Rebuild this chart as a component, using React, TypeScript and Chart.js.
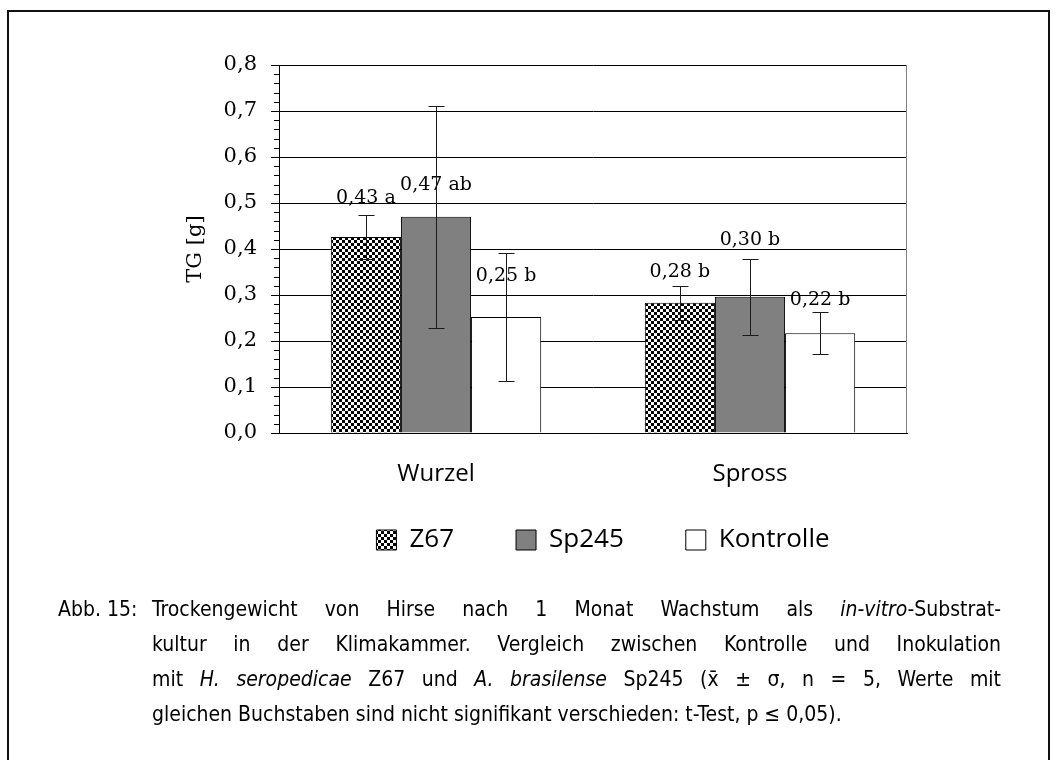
import React, { useEffect, useRef } from 'react';
import { Chart, registerables } from 'chart.js';

Chart.register(...registerables);

// ---------- data ----------
const categories = ['Wurzel', 'Spross'];
const seriesNames = ['Z67', 'Sp245', 'Kontrolle'];
const z67Values = [0.426, 0.283];
const sp245Values = [0.47, 0.296];
const kontrolleValues = [0.252, 0.217];
const z67Sd = [0.048, 0.037];
const sp245Sd = [0.241, 0.083];
const kontrolleSd = [0.139, 0.045];
const z67Labels = ['0,43 a', '0,28 b'];
const sp245Labels = ['0,47 ab', '0,30 b'];
const kontrolleLabels = ['0,25 b', '0,22 b'];
const yTickLabels = ['0,0', '0,1', '0,2', '0,3', '0,4', '0,5', '0,6', '0,7', '0,8'];
const yTitle = 'TG [g]';

const SERIF = "'DejaVu Serif', serif";
const SANS = "'Open Sans', sans-serif";

export default function App() {
  const ref = useRef<HTMLCanvasElement | null>(null);

  useEffect(() => {
    let chart: Chart | null = null;
    let cancelled = false;
    const canvas = ref.current!;
    const ctx = canvas.getContext('2d')!;

    const pc = document.createElement('canvas');
    pc.width = 6;
    pc.height = 6;
    const p = pc.getContext('2d')!;
    p.fillStyle = '#fff';
    p.fillRect(0, 0, 6, 6);
    p.fillStyle = '#000';
    p.fillRect(0, 0, 3, 3);
    p.fillRect(3, 3, 3, 3);
    const checker = ctx.createPattern(pc, 'repeat')!;

    const sds = [z67Sd, sp245Sd, kontrolleSd];
    const labels = [z67Labels, sp245Labels, kontrolleLabels];

    const extrasPlugin = {
      id: 'extras',
      afterLayout(c: any, _args: any, opts: any) {
        if (c.legend) {
          c.legend.top -= opts.legendShift;
          c.legend.bottom -= opts.legendShift;
        }
      },
      beforeDatasetsDraw(c: any) {
        const { ctx: g, chartArea } = c;
        const ys = c.scales.y;
        g.save();
        g.strokeStyle = '#000';
        g.lineWidth = 1;
        for (let i = 0; i <= 40; i++) {
          if (i % 5 === 0) continue;
          const y = Math.round(ys.getPixelForValue(i * 0.02)) + 0.5;
          g.beginPath();
          g.moveTo(chartArea.left - 5, y);
          g.lineTo(chartArea.left, y);
          g.stroke();
        }
        g.strokeStyle = '#808080';
        const xr = Math.round(chartArea.right) - 0.5;
        g.beginPath();
        g.moveTo(xr, chartArea.top);
        g.lineTo(xr, chartArea.bottom);
        g.stroke();
        g.restore();
      },
      afterDatasetsDraw(c: any, _args: any, opts: any) {
        const { ctx: g } = c;
        const ys = c.scales.y;
        g.save();
        // data labels
        g.fillStyle = '#000';
        g.font = `19px ${SERIF}`;
        g.textAlign = 'center';
        g.textBaseline = 'alphabetic';
        c.data.datasets.forEach((ds: any, di: number) => {
          const meta = c.getDatasetMeta(di);
          meta.data.forEach((bar: any, i: number) => {
            g.fillText(labels[di][i], bar.x, bar.y - opts.labelOffsets[di][i]);
          });
        });
        // error bars
        g.strokeStyle = '#1a1a1a';
        g.lineWidth = 1;
        c.data.datasets.forEach((ds: any, di: number) => {
          const meta = c.getDatasetMeta(di);
          meta.data.forEach((bar: any, i: number) => {
            const v = ds.data[i];
            const sd = sds[di][i];
            const x = Math.round(bar.x) + 0.5;
            const yt = Math.round(ys.getPixelForValue(v + sd)) + 0.5;
            const yb = Math.round(ys.getPixelForValue(v - sd)) + 0.5;
            const hw = 8;
            g.beginPath();
            g.moveTo(x, yt);
            g.lineTo(x, yb);
            g.moveTo(x - hw, yt);
            g.lineTo(x + hw, yt);
            g.moveTo(x - hw, yb);
            g.lineTo(x + hw, yb);
            g.stroke();
          });
        });
        g.restore();
      },
    };

    const build = () => {
      if (cancelled) return;
      chart = new Chart(canvas, {
        type: 'bar',
        data: {
          labels: categories,
          datasets: [
            {
              label: seriesNames[0],
              data: z67Values,
              backgroundColor: checker as any,
              borderColor: '#000',
              borderWidth: 1,
              yAxisID: 'y',
            },
            {
              label: seriesNames[1],
              data: sp245Values,
              backgroundColor: '#808080',
              borderColor: '#000',
              borderWidth: 1,
              yAxisID: 'y',
            },
            {
              label: seriesNames[2],
              data: kontrolleValues,
              backgroundColor: '#ffffff',
              borderColor: '#000',
              borderWidth: 1,
              yAxisID: 'y',
            },
          ],
        },
        options: {
          responsive: false,
          animation: false,
          datasets: { bar: { categoryPercentage: 0.67, barPercentage: 1.0 } },
          layout: { padding: { left: 179, right: 29, top: 65, bottom: 19 } },
          scales: {
            x: {
              grid: { display: true, drawOnChartArea: false, drawTicks: false },
              border: { display: true, color: '#000', width: 1 },
              ticks: { font: { family: SANS, size: 24 }, color: '#000', padding: 27 },
              afterFit: (s: any) => {
                s.height = 70;
              },
            },
            y: {
              min: 0,
              max: 0.8,
              ticks: {
                stepSize: 0.1,
                callback: (_v: any, i: number) => yTickLabels[i] ?? '',
                font: { family: SERIF, size: 21 },
                color: '#000',
                padding: 14,
              },
              grid: { color: '#000', lineWidth: 1, tickLength: 8, drawTicks: true },
              border: { display: true, color: '#000', width: 1 },
              title: {
                display: true,
                text: yTitle,
                font: { family: SERIF, size: 21 },
                color: '#000',
                padding: { top: 4, bottom: 4 },
              },
              afterFit: (s: any) => {
                s.width = 100;
              },
            },
            y2: {
              position: 'right',
              display: true,
              grid: { display: false },
              ticks: { display: false },
              border: { display: false },
              afterFit: (s: any) => {
                s.width = 120;
              },
            },
          },
          plugins: {
            legend: {
              position: 'bottom',
              labels: {
                font: { family: SANS, size: 26 },
                color: '#000',
                boxWidth: 20,
                boxHeight: 20,
                padding: 62,
              },
            },
            tooltip: { enabled: false },
            extras: {
              legendShift: 38,
              labelOffsets: [
                [34, 26],
                [27, 52],
                [36, 28],
              ],
            },
          } as any,
        },
        plugins: [extrasPlugin],
      });
    };

    const fontsApi = (document as any).fonts;
    if (fontsApi && fontsApi.load) {
      Promise.all([
        fontsApi.load(`24px ${SANS}`),
        fontsApi.load(`21px ${SERIF}`),
      ])
        .catch(() => null)
        .then(build);
    } else {
      build();
    }

    return () => {
      cancelled = true;
      if (chart) chart.destroy();
    };
  }, []);

  const capFont = "'DejaVu Sans Condensed', 'Open Sans', sans-serif";
  const lineStyle: React.CSSProperties = {
    height: 35,
    lineHeight: '35px',
    whiteSpace: 'nowrap',
    textAlign: 'justify',
    textAlignLast: 'justify' as any,
  };
  const lastLine: React.CSSProperties = {
    height: 35,
    lineHeight: '35px',
    whiteSpace: 'nowrap',
    textAlign: 'left',
  };

  return (
    <div style={{ position: 'absolute', left: 0, top: 0, width: 1056, height: 760, background: '#fff', overflow: 'hidden' }}>
      <div
        style={{
          position: 'absolute',
          left: 7,
          top: 10,
          width: 1039,
          height: 800,
          borderTop: '2px solid #111',
          borderLeft: '2px solid #111',
          borderRight: '2px solid #111',
        }}
      />
      <div style={{ position: 'absolute', left: 0, top: 0, width: 1056, height: 620 }}>
        <canvas ref={ref} width={1056} height={620} style={{ display: 'block' }} />
      </div>
      <div style={{ position: 'absolute', left: 58, top: 592, fontFamily: capFont, fontSize: 21, color: '#000', lineHeight: '35px' }}>
        Abb. 15:
      </div>
      <div
        style={{
          position: 'absolute',
          left: 152,
          top: 592,
          width: 849,
          fontFamily: capFont,
          fontSize: 21,
          color: '#000',
        }}
      >
        <div style={lineStyle}>
          Trockengewicht von Hirse nach 1 Monat Wachstum als <i>in-vitro</i>-Substrat-
        </div>
        <div style={lineStyle}>kultur in der Klimakammer. Vergleich zwischen Kontrolle und Inokulation</div>
        <div style={lineStyle}>
          mit <i>H. seropedicae</i> Z67 und <i>A. brasilense</i> Sp245 (x̄ ± σ, n = 5, Werte mit
        </div>
        <div style={lastLine}>gleichen Buchstaben sind nicht signifikant verschieden: t-Test, p ≤ 0,05).</div>
      </div>
    </div>
  );
}
